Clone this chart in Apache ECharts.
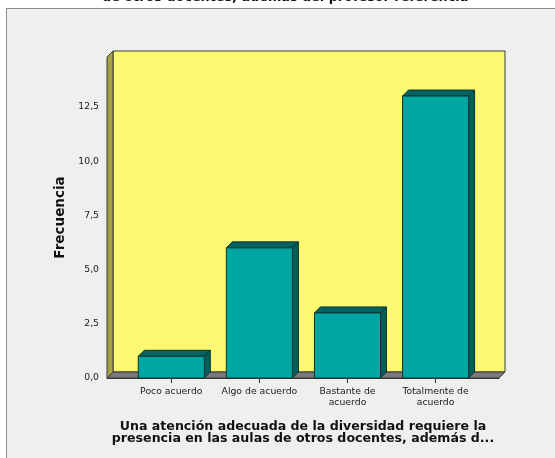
<!DOCTYPE html>
<html>
<head>
<meta charset="utf-8">
<script src="https://cdn.jsdelivr.net/npm/echarts@6/dist/echarts.min.js"></script>
<style>
  html, body { margin: 0; padding: 0; background: #ffffff; overflow: hidden; }
  #frame {
    position: absolute; left: 6px; top: 8px; width: 700px; height: 600px;
    background: #efefef; border-left: 1.5px solid #8c8c8c; border-top: 1.5px solid #8c8c8c;
  }
  #chart { position: absolute; left: 0; top: 0; width: 555px; height: 458px; }
</style>
</head>
<body>
<div id="frame"></div>
<div id="chart"></div>
<script>
// Response categories and their counts
const categories = ['Poco acuerdo', 'Algo de acuerdo', 'Bastante de\nacuerdo', 'Totalmente de\nacuerdo'];
const frequencies = [1, 6, 3, 13];
const yTicks = [0, 2.5, 5, 7.5, 10, 12.5];
const categoryIndex = [0, 1, 2, 3];

const chartTitle = 'de otros docentes, además del profesor referencia';
const xTitle = 'Una atención adecuada de la diversidad requiere la\npresencia en las aulas de otros docentes, además d...';
const yTitle = 'Frecuencia';

const DEPTH = 6;          // pseudo-3D offset in pixels
const BAR_WIDTH = 0.75;   // in category units
const FONT = '"DejaVu Sans", Verdana, sans-serif';

const chart = echarts.init(document.getElementById('chart'), null, { renderer: 'canvas' });

// Back wall, left wall and floor of the plot box
function renderWalls(params, api) {
  const c = params.coordSys;
  const x = c.x, y = c.y, w = c.width, h = c.height, d = DEPTH;
  return {
    type: 'group',
    children: [
      { type: 'rect', shape: { x: x + d, y: y - d, width: w, height: h },
        style: { fill: '#fbf872', stroke: '#3a3a3a', lineWidth: 1 } },
      { type: 'polygon', shape: { points: [[x, y + h], [x, y], [x + d, y - d], [x + d, y + h - d]] },
        style: { fill: '#a5a044', stroke: '#3a3a3a', lineWidth: 1 } },
      { type: 'polygon', shape: { points: [[x, y + h], [x + w, y + h], [x + w + d, y + h - d], [x + d, y + h - d]] },
        style: { fill: '#7a7a7a', stroke: '#3a3a3a', lineWidth: 1 } }
    ]
  };
}

// Bars drawn as extruded boxes
function renderBar(params, api) {
  const i = api.value(0);
  const v = api.value(1);
  const base = api.coord([i, 0]);
  const top = api.coord([i, v]);
  const half = api.size([BAR_WIDTH, 0])[0] / 2;
  const x0 = base[0] - half, x1 = base[0] + half;
  const yb = base[1], yt = top[1], d = DEPTH;
  const edge = { stroke: '#123332', lineWidth: 1 };
  return {
    type: 'group',
    children: [
      { type: 'polygon', shape: { points: [[x1, yt], [x1 + d, yt - d], [x1 + d, yb - d], [x1, yb]] },
        style: Object.assign({ fill: '#005e5b' }, edge) },
      { type: 'polygon', shape: { points: [[x0, yt], [x1, yt], [x1 + d, yt - d], [x0 + d, yt - d]] },
        style: Object.assign({ fill: '#006360' }, edge) },
      { type: 'rect', shape: { x: x0, y: yt, width: x1 - x0, height: yb - yt },
        style: Object.assign({ fill: '#00a6a2' }, edge) }
    ]
  };
}

chart.setOption({
  backgroundColor: 'transparent',
  animation: false,
  title: {
    text: chartTitle,
    left: 97,
    top: -14,
    textStyle: { fontFamily: FONT, fontSize: 12.8, fontWeight: 'bold', color: '#111' }
  },
  grid: { left: 107, right: 56, top: 57, bottom: 80 },
  xAxis: {
    type: 'value',
    min: -0.73,
    max: 3.72,
    splitLine: { show: false },
    axisLine: { show: true, lineStyle: { color: '#333', width: 1 } },
    axisTick: { show: true, customValues: categoryIndex, length: 5, lineStyle: { color: '#333' } },
    axisLabel: {
      customValues: categoryIndex,
      formatter: v => categories[Math.round(v)],
      fontFamily: FONT, fontSize: 9.3, color: '#1a1a1a', lineHeight: 11, margin: 8
    },
    name: xTitle,
    nameLocation: 'middle',
    nameGap: 43,
    nameTextStyle: { fontFamily: FONT, fontSize: 12.6, fontWeight: 'bold', color: '#111', lineHeight: 12 }
  },
  yAxis: {
    type: 'value',
    min: 0,
    max: 14.8,
    splitLine: { show: false },
    axisLine: { show: true, lineStyle: { color: '#333', width: 1 } },
    axisTick: { show: true, customValues: yTicks, length: 6, lineStyle: { color: '#333' } },
    axisLabel: {
      customValues: yTicks,
      formatter: v => v.toFixed(1).replace('.', ','),
      fontFamily: FONT, fontSize: 9.3, color: '#1a1a1a', margin: 8
    },
    name: yTitle,
    nameLocation: 'middle',
    nameGap: 33,
    nameTextStyle: { fontFamily: FONT, fontSize: 13.5, fontWeight: 'bold', color: '#111' }
  },
  series: [
    {
      type: 'custom',
      z: 1,
      silent: true,
      clip: false,
      renderItem: renderWalls,
      data: [[0, 0]]
    },
    {
      type: 'custom',
      z: 2,
      clip: false,
      renderItem: renderBar,
      encode: { x: 0, y: 1 },
      data: frequencies.map((v, i) => [i, v])
    }
  ]
});
</script>
</body>
</html>
